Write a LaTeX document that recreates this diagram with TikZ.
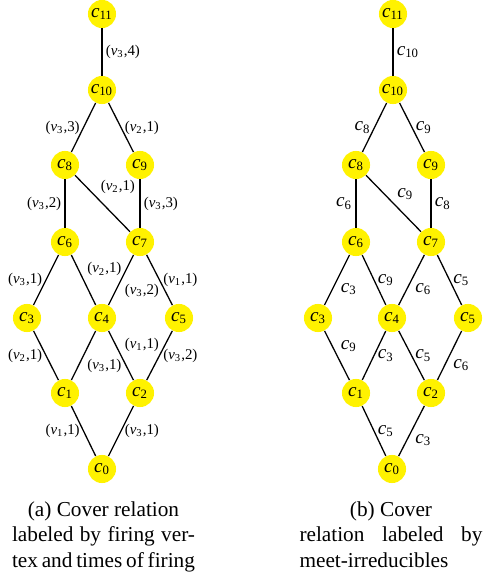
\documentclass[tikz,border=0pt]{standalone}
\usepackage{fontspec}
\setmainfont{Liberation Serif}
\newcommand{\celm}[1]{\textit{c}\textsubscript{#1}}
\newcommand{\fvtx}[2]{(\textit{v}\textsubscript{#1},#2)}

\begin{document}
\begin{tikzpicture}[
    x=0.47pt, y=-0.47pt,
    elem/.style = {circle, fill=yellow, minimum size=13.2pt, inner sep=0pt, font=\small},
    link/.style = {draw, line width=0.6pt},
    fire/.style = {font=\scriptsize, inner sep=1.5pt},
    irr/.style = {font=\small, inner sep=1.5pt},
    subcap/.style = {text width=86pt, align=justify, inner sep=0pt, anchor=north, font=\normalsize}
]
    \useasboundingbox (0,0) rectangle (483,573);

    % (a) cover relation, firing vertex and times
    \node[elem] (a11) at (102, 14) {\celm{11}};
    \node[elem] (a10) at (102, 90) {\celm{10}};
    \node[elem] (a8) at (65, 165) {\celm{8}};
    \node[elem] (a9) at (140, 165) {\celm{9}};
    \node[elem] (a6) at (65, 242) {\celm{6}};
    \node[elem] (a7) at (140, 242) {\celm{7}};
    \node[elem] (a3) at (27, 318) {\celm{3}};
    \node[elem] (a4) at (102, 318) {\celm{4}};
    \node[elem] (a5) at (179, 318) {\celm{5}};
    \node[elem] (a1) at (65, 393) {\celm{1}};
    \node[elem] (a2) at (140, 393) {\celm{2}};
    \node[elem] (a0) at (102, 469) {\celm{0}};

    \path[link] (a11) -- (a10) node[midway,right,fire] {\fvtx{3}{4}};
    \path[link] (a10) -- (a8) node[midway,left,fire] {\fvtx{3}{3}};
    \path[link] (a10) -- (a9) node[midway,right,fire] {\fvtx{2}{1}};
    \path[link] (a8) -- (a6) node[midway,left,fire] {\fvtx{3}{2}};
    \path[link] (a8) -- (a7) node[pos=0.4,above right,fire] {\fvtx{2}{1}};
    \path[link] (a9) -- (a7) node[midway,right,fire] {\fvtx{3}{3}};
    \path[link] (a6) -- (a3) node[midway,left,fire] {\fvtx{3}{1}};
    \path[link] (a6) -- (a4) node[midway,above right,fire] {\fvtx{2}{1}};
    \path[link] (a7) -- (a4) node[midway,below right,fire] {\fvtx{3}{2}};
    \path[link] (a7) -- (a5) node[midway,right,fire] {\fvtx{1}{1}};
    \path[link] (a3) -- (a1) node[midway,left,fire] {\fvtx{2}{1}};
    \path[link] (a4) -- (a1) node[midway,below right,fire] {\fvtx{3}{1}};
    \path[link] (a4) -- (a2) node[midway,above right,fire] {\fvtx{1}{1}};
    \path[link] (a5) -- (a2) node[midway,right,fire] {\fvtx{3}{2}};
    \path[link] (a1) -- (a0) node[midway,left,fire] {\fvtx{1}{1}};
    \path[link] (a2) -- (a0) node[midway,right,fire] {\fvtx{3}{1}};

    % (b) cover relation, meet-irreducibles
    \node[elem] (b11) at (393, 14) {\celm{11}};
    \node[elem] (b10) at (393, 90) {\celm{10}};
    \node[elem] (b8) at (356, 165) {\celm{8}};
    \node[elem] (b9) at (431, 165) {\celm{9}};
    \node[elem] (b6) at (356, 242) {\celm{6}};
    \node[elem] (b7) at (431, 242) {\celm{7}};
    \node[elem] (b3) at (318, 318) {\celm{3}};
    \node[elem] (b4) at (392, 318) {\celm{4}};
    \node[elem] (b5) at (468, 318) {\celm{5}};
    \node[elem] (b1) at (356, 393) {\celm{1}};
    \node[elem] (b2) at (431, 393) {\celm{2}};
    \node[elem] (b0) at (392, 469) {\celm{0}};

    \path[link] (b11) -- (b10) node[midway,right,irr] {\celm{10}};
    \path[link] (b10) -- (b8) node[midway,left,irr] {\celm{8}};
    \path[link] (b10) -- (b9) node[midway,right,irr] {\celm{9}};
    \path[link] (b8) -- (b6) node[midway,left,irr] {\celm{6}};
    \path[link] (b8) -- (b7) node[midway,above right,irr] {\celm{9}};
    \path[link] (b9) -- (b7) node[midway,right,irr] {\celm{8}};
    \path[link] (b6) -- (b3) node[midway,below right,irr] {\celm{3}};
    \path[link] (b6) -- (b4) node[midway,right,irr] {\celm{9}};
    \path[link] (b7) -- (b4) node[midway,below right,irr] {\celm{6}};
    \path[link] (b7) -- (b5) node[midway,right,irr] {\celm{5}};
    \path[link] (b3) -- (b1) node[midway,above right,irr] {\celm{9}};
    \path[link] (b4) -- (b1) node[midway,right,irr] {\celm{3}};
    \path[link] (b4) -- (b2) node[midway,right,irr] {\celm{5}};
    \path[link] (b5) -- (b2) node[midway,below right,irr] {\celm{6}};
    \path[link] (b1) -- (b0) node[midway,right,irr] {\celm{5}};
    \path[link] (b2) -- (b0) node[midway,below right,irr] {\celm{3}};

    % captions
    \node[subcap] (capa) at (103.5, 501) {\null\hfill(a) Cover relation\hfill\null\linebreak
        labeled by firing ver-\linebreak tex and times of firing};
    \node[subcap] (capb) at (391, 501) {\null\hfill(b) Cover\hfill\null\linebreak
        relation labeled by\linebreak meet-irreducibles};
\end{tikzpicture}
\end{document}
